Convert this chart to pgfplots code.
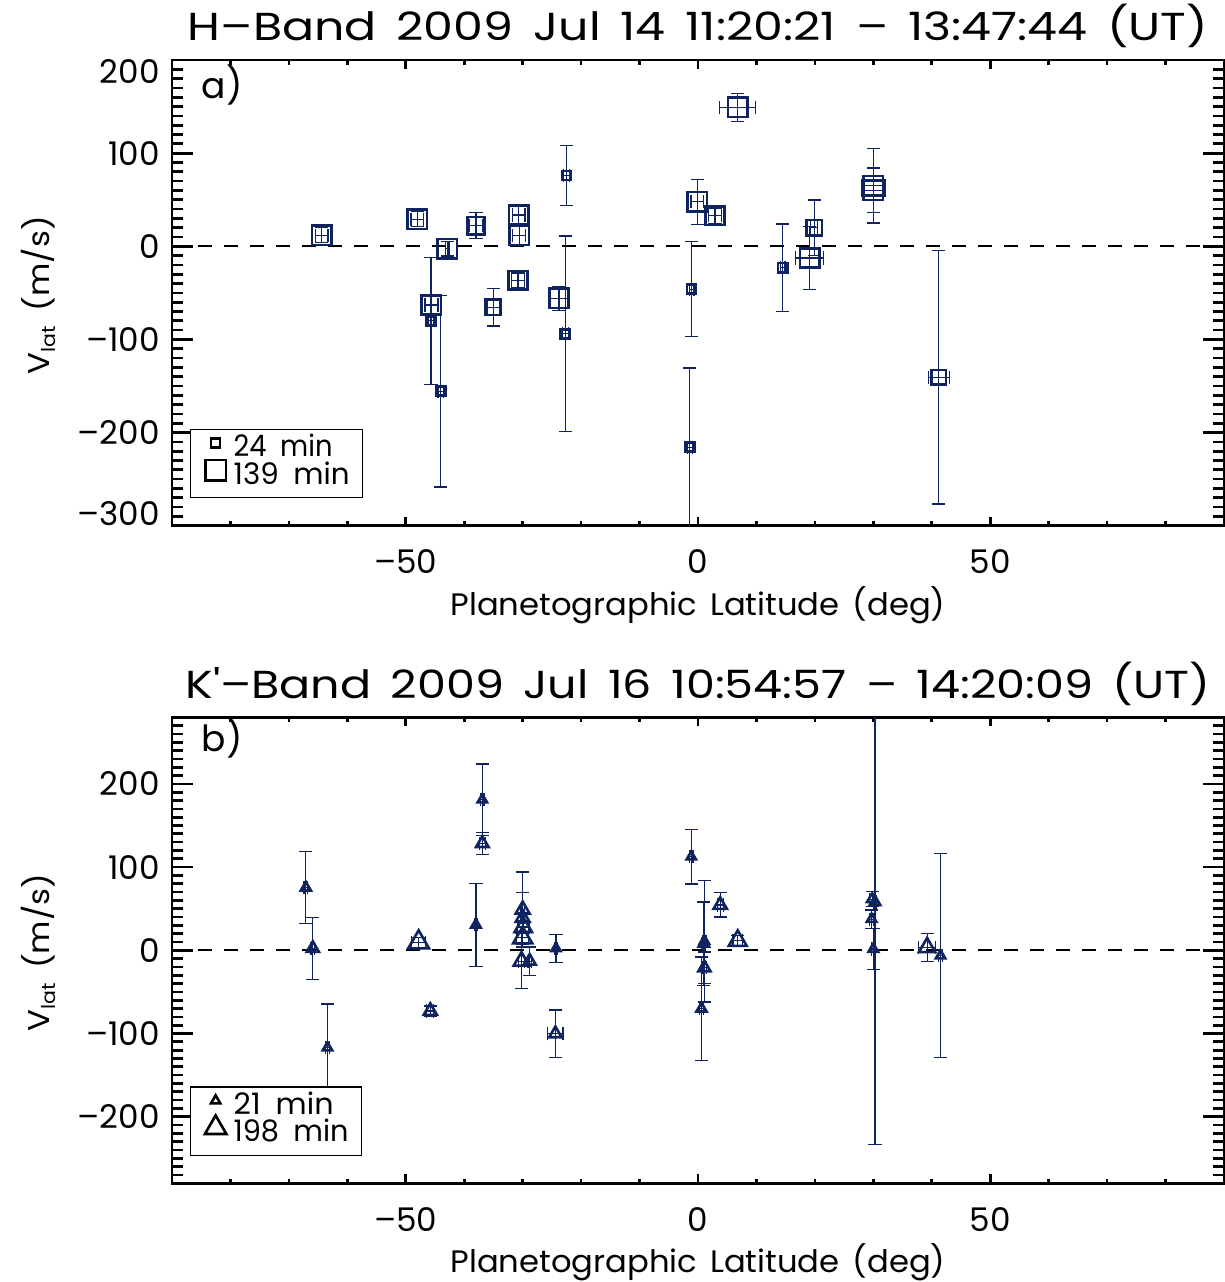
\documentclass[border=0pt]{standalone}
\usepackage{fontspec}
\setmainfont{Poppins}
\usepackage{graphicx}
\usepackage{pgfplots}
\pgfplotsset{compat=1.18}
\usepackage{pgfplotstable}
\definecolor{navy}{RGB}{15,35,95}

% top panel: lat, vlat, lat err, vlat err, half box size (px)
\pgfplotstableread{
x y ex ey s
-64.4 12 1.1 8 9.7
-48.0 29 1.1 8 9.7
-42.9 -2.5 0.3 8 9.7
-38.0 22 1.1 14 8.7
-30.7 33.5 1.1 10 9.7
-30.6 12 1.1 10 9.7
-30.8 -36.7 1.1 8 9.3
-45.6 -63 1.1 11 9.7
-45.7 -80 0.5 68 4.4
-44.0 -155.5 0.5 103 4.4
-35.0 -65.5 1.1 20 7.7
-22.5 76 0.5 32 4.6
-23.8 -55.8 1.5 13 9.7
-22.7 -94 0.5 105 4.6
6.8 149.4 3.1 15 9.7
-0.1 47.8 1.1 24 9.7
2.9 32.7 1.1 8 9.3
-1.1 -46 0.4 51 4.6
-1.4 -215.6 0.4 85 4.6
14.5 -23 0.4 47 4.6
19.9 19.8 0.6 30 7.7
19.1 -12.6 2.4 34 9.7
30.0 65 2.0 40 9.7
30.0 60 2.0 24 9.7
41.2 -140.7 1.8 136 7.3
}\topdata

% bottom panel: lat, vlat, lat err, vlat err, triangle size (px)
\pgfplotstableread{
x y ex ey s
-67.1 75.4 0.3 43 5.8
-65.9 2.4 0.3 37.5 7
-63.4 -117 0.3 52.5 5.5
-36.9 181 0.3 43 5.5
-36.9 128.5 0.5 13 7.2
-38.0 30.7 0.3 50 5.5
-47.8 9.6 1.2 6 12
-45.8 -73 0.6 6 7.7
-30.0 49 0.3 45 8
-30.0 39 0.3 30 8
-29.9 28 1.0 8 10
-30.0 15 1.0 8 11
-30.2 -13 0.5 33 9
-28.8 -13 0.3 17 7
-24.3 2.4 0.3 17 5.3
-24.4 -100.2 1.3 28.5 7.2
-1.15 112.6 0.3 33 5.3
1.1 11 0.3 73 5.5
1.0 8 0.3 50 6
1.1 -21 0.4 19 7
0.6 -70 0.3 62 5.8
3.8 54.5 0.5 14.5 7.7
6.8 11.5 0.8 6 10.4
29.8 61.5 0.4 9 6
30.3 58 0.3 291 6
29.7 37.5 0.3 11 5.5
30.0 1.6 0.3 25 5.5
39.2 3.5 1.5 17 9.5
41.5 -6.4 0.3 122.6 5.4
}\botdata

\pgfplotsset{
  idl/.style={
    scale only axis, width=526pt,
    xmin=-90, xmax=90,
    xtick={-50,0,50}, xticklabels={–50,0,50},
    minor xtick={-80,-70,...,80},
    axis line style={line width=1.35pt},
    every tick/.style={black, line width=1.35pt},
    tick align=inside,
    every major x tick/.append style={/pgfplots/major tick length=4.5pt},
    every minor x tick/.append style={/pgfplots/minor tick length=2.25pt},
    every major y tick/.append style={/pgfplots/major tick length=10.75pt},
    every minor y tick/.append style={/pgfplots/minor tick length=5.75pt},
    tick label style={font=\fontsize{16.3}{16.3}\selectfont},
    xticklabel style={anchor=base, inner sep=0pt, yshift=-23.85pt},
    yticklabel style={anchor=east, inner sep=0pt, xshift=-6pt},
    xlabel={\resizebox{247.5pt}{\height}{Planetographic\hspace{0.4em}Latitude\hspace{0.4em}(deg)}},
    xlabel style={at={(axis description cs:0.5,-0.1918)}, anchor=base, inner sep=0pt, font=\fontsize{15.5}{15.5}\selectfont},
    ylabel={\resizebox{79pt}{\height}{V\raisebox{-0.35ex}{\fontsize{9.5}{9.5}\selectfont lat}\hspace{0.45em}(m/s)}},
    ylabel style={at={(axis description cs:-0.1160,0.495)}, anchor=base, inner sep=0pt, font=\fontsize{15}{15}\selectfont},
    title style={anchor=base, inner sep=0pt, font=\fontsize{19.5}{19.5}\selectfont},
    legend style={at={(0.0171,0.0588)}, anchor=south west, draw=black, line width=0.65pt, fill=white,
      inner xsep=6.5pt, inner ysep=3.3pt, row sep=-0.35pt, column sep=3pt,
      font=\fontsize{14.8}{14.8}\selectfont,
      nodes={inner sep=0pt, text height=10.35pt, text depth=3.5pt}},
    legend cell align=left,
    legend image code/.code={\path[use as bounding box, draw=none, fill=none] (0pt,0pt) rectangle (12pt,7pt); \draw[##1] plot coordinates {(6pt,3.5pt)};},
  },
  errs/.style={
    error bars/.cd, x dir=both, x explicit, y dir=both, y explicit,
    error bar style={line width=0.6pt, draw=navy},
    error mark options={rotate=90, line width=0.6pt, draw=navy, mark size=3.3pt},
  },
}

\begin{document}
\begin{tikzpicture}
% ---------------- panel a ----------------
\begin{axis}[idl, at={(86pt,-30pt)}, anchor=north west, height=232.85pt,
  ymin=-300, ymax=200,
  ytick={-300,-200,-100,0,100,200},
  yticklabels={\raisebox{5.85pt}[\height][\depth]{–300},–200,–100,0,100,\raisebox{-5.85pt}[\height][\depth]{200}},
  minor ytick={-290,-280,...,190},
  title={\resizebox{510pt}{\height}{H–Band\hspace{0.42em}2009\hspace{0.42em}Jul\hspace{0.42em}14\hspace{0.42em}11:20:21\hspace{0.42em}–\hspace{0.42em}13:47:44\hspace{0.42em}(UT)}},
  title style={at={(axis description cs:0.5,1.0157)}, anchor=base},
]
\addplot[forget plot, black, line width=1.1pt, dash pattern=on 7pt off 6pt] coordinates {(-90,0) (90,0)};
\addplot[forget plot, scatter, only marks, mark=square,
  point meta=\thisrow{s},
  scatter/use mapped color={draw=navy},
  visualization depends on={\thisrow{s}/2 \as \msize},
  scatter/@pre marker code/.append style={/tikz/mark size=\msize},
  mark options={line width=1.3pt, solid},
  errs] table[x=x, y=y, x error=ex, y error=ey] {\topdata};
\addlegendimage{only marks, mark=square, black, mark size=2.25pt, mark options={line width=1.3pt}}
\addlegendentry{\resizebox{49.5pt}{\height}{24\hspace{0.5em}min}}
\addlegendimage{only marks, mark=square, black, mark size=5.1pt, mark options={line width=1.3pt}}
\addlegendentry{\resizebox{58pt}{\height}{139\hspace{0.5em}min}}
\node[anchor=base west, inner sep=0pt, font=\fontsize{18}{18}\selectfont] at (rel axis cs:0.028,0.918) {a)};
\end{axis}
% ---------------- panel b ----------------
\begin{axis}[idl, at={(86pt,-358.65pt)}, anchor=north west, height=233pt,
  ymin=-280, ymax=280,
  ytick={-200,-100,0,100,200},
  yticklabels={–200,–100,0,100,200},
  minor ytick={-270,-260,...,270},
  title={\resizebox{512.5pt}{\height}{K\textquotesingle–Band\hspace{0.42em}2009\hspace{0.42em}Jul\hspace{0.42em}16\hspace{0.42em}10:54:57\hspace{0.42em}–\hspace{0.42em}14:20:09\hspace{0.42em}(UT)}},
  title style={at={(axis description cs:0.5,1.0150)}, anchor=base},
  xlabel style={at={(axis description cs:0.5,-0.1916)}},
]
\addplot[forget plot, black, line width=1.1pt, dash pattern=on 7pt off 6pt] coordinates {(-90,0) (90,0)};
\addplot[forget plot, scatter, only marks, mark=triangle,
  point meta=\thisrow{s},
  scatter/use mapped color={draw=navy},
  visualization depends on={\thisrow{s}/2 \as \msize},
  scatter/@pre marker code/.append style={/tikz/mark size=\msize},
  mark options={line width=1.3pt, solid},
  errs] table[x=x, y=y, x error=ex, y error=ey] {\botdata};
\addlegendimage{only marks, mark=triangle, black, mark size=2.65pt, mark options={line width=1.3pt}}
\addlegendentry{\resizebox{50pt}{\height}{21\hspace{0.5em}min}}
\addlegendimage{only marks, mark=triangle, black, mark size=6.2pt, mark options={line width=1.3pt}}
\addlegendentry{\resizebox{57.5pt}{\height}{198\hspace{0.5em}min}}
\node[anchor=base west, inner sep=0pt, font=\fontsize{18}{18}\selectfont] at (rel axis cs:0.028,0.9262) {b)};
\end{axis}
\pgfresetboundingbox
\path[use as bounding box] (0,0) rectangle (612.5pt,-641pt);
\end{tikzpicture}
\end{document}
